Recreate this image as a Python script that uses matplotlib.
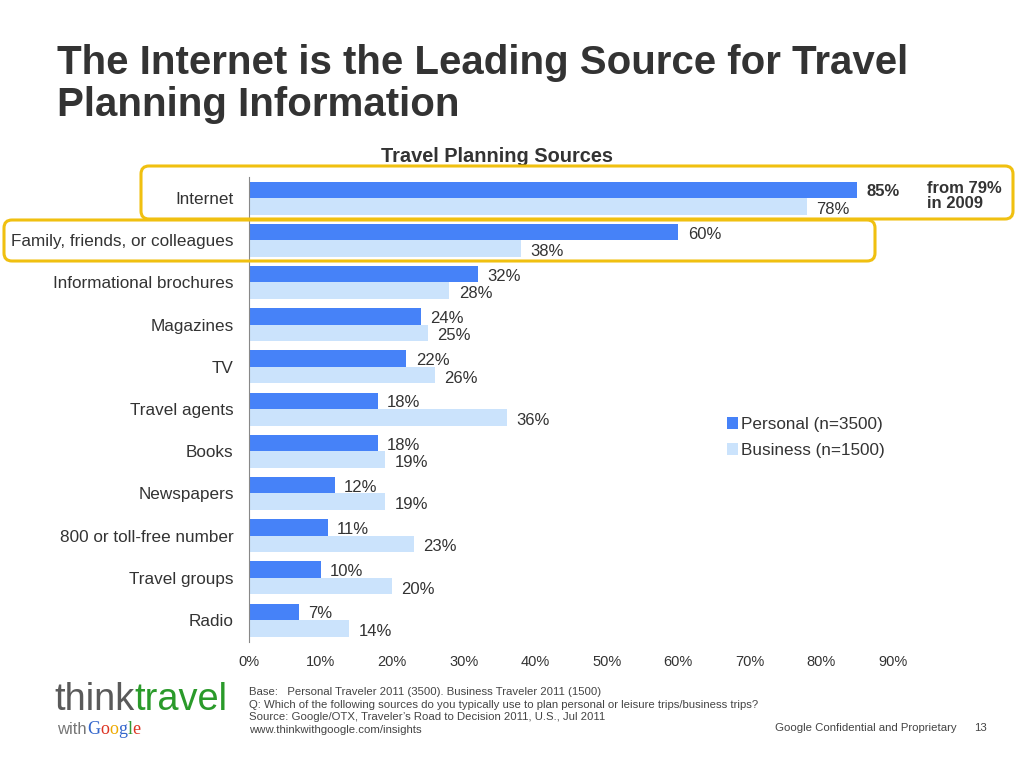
import matplotlib
matplotlib.use('Agg')
import matplotlib.pyplot as plt
from matplotlib.patches import FancyBboxPatch
import numpy as np

plt.rcParams['font.family'] = ['Liberation Sans', 'DejaVu Sans']

# ---------------- data ----------------
categories = ['Internet', 'Family, friends, or colleagues', 'Informational brochures',
              'Magazines', 'TV', 'Travel agents', 'Books', 'Newspapers',
              '800 or toll-free number', 'Travel groups', 'Radio']
personal = [85, 60, 32, 24, 22, 18, 18, 12, 11, 10, 7]
business = [78, 38, 28, 25, 26, 36, 19, 19, 23, 20, 14]
xticks = [0, 10, 20, 30, 40, 50, 60, 70, 80, 90]
series_names = ['Personal (n=3500)', 'Business (n=1500)']

footer_lines = [
    'Base:   Personal Traveler 2011 (3500). Business Traveler 2011 (1500)',
    'Q: Which of the following sources do you typically use to plan personal or leisure trips/business trips?',
    'Source: Google/OTX, Traveler\u2019s Road to Decision 2011, U.S., Jul 2011',
    'www.thinkwithgoogle.com/insights',
]

C_PERS = '#4682F8'
C_BUS = '#CBE3FC'
C_TXT = '#333333'
C_GOLD = '#F0C010'

W, H = 1017, 759
fig = plt.figure(figsize=(W / 100, H / 100), dpi=100)


def fx(px):
    return px / W


def fy(py):
    return 1 - py / H


# ---------------- bars ----------------
ax = fig.add_axes([fx(249), fy(642), fx(893) - fx(249), fy(177) - fy(642)])
y = np.arange(len(categories))
bh = 0.39
ax.barh(y - bh / 2, personal, height=bh, color=C_PERS, label=series_names[0])
ax.barh(y + bh / 2, business, height=bh, color=C_BUS, label=series_names[1])

for i, (p, b) in enumerate(zip(personal, business)):
    w = 'bold' if i == 0 else 'normal'
    ax.text(p + 1.3, y[i] - bh / 2 + 0.05, f'{p}%', va='center', ha='left',
            fontsize=12, fontweight=w, color=C_TXT)
    ax.text(b + 1.3, y[i] + bh / 2 + 0.07, f'{b}%', va='center', ha='left',
            fontsize=12, color=C_TXT)

ax.set_xlim(0, 90)
ax.set_ylim(len(categories) - 0.48, -0.5)
ax.set_xticks(xticks)
ax.set_xticklabels([f'{t}%' for t in xticks], fontsize=10.5, color=C_TXT)
ax.set_yticks(y)
ax.set_yticklabels(categories, fontsize=12.3, color=C_TXT)
ax.tick_params(axis='both', length=0)
ax.tick_params(axis='x', pad=9)
ax.tick_params(axis='y', pad=11)
for s in ['top', 'right', 'bottom']:
    ax.spines[s].set_visible(False)
ax.spines['left'].set_color('#888888')
ax.spines['left'].set_linewidth(0.8)

leg = fig.legend(loc='upper left', bbox_to_anchor=(fx(712), fy(402)), frameon=False,
                 fontsize=12.3, handlelength=0.6, handleheight=0.7, handletextpad=0.2,
                 labelspacing=0.6)
for t in leg.get_texts():
    t.set_color(C_TXT)

# ---------------- titles ----------------
fig.text(fx(57), fy(84), 'The Internet is the Leading Source for Travel\nPlanning Information',
         fontsize=29, fontweight='bold', color='#333333', ha='left', va='center',
         linespacing=1.14)
fig.text(fx(497), fy(156), 'Travel Planning Sources', fontsize=14.4, fontweight='bold',
         color=C_TXT, ha='center', va='center')

fig.text(fx(927), fy(196), 'from 79%\nin 2009', fontsize=12, fontweight='bold',
         color=C_TXT, ha='left', va='center', linespacing=1.05)

# ---------------- highlight boxes (inches coords) ----------------
tr = fig.dpi_scale_trans
for (x0, y0, x1, y1) in [(141, 166, 1013, 219), (4, 220, 875, 261)]:
    box = FancyBboxPatch((x0 / 100, (H - y1) / 100), (x1 - x0) / 100, (y1 - y0) / 100,
                         boxstyle='round,pad=0,rounding_size=0.08', transform=tr,
                         fill=False, edgecolor=C_GOLD, linewidth=2.2, zorder=10)
    fig.patches.append(box)

# ---------------- footer ----------------
for k, line in enumerate(footer_lines):
    fig.text(fx(249), fy(692 + k * 12.7), line, fontsize=8.2, color='#444444',
             ha='left', va='center')
fig.text(fx(775), fy(728), 'Google Confidential and Proprietary', fontsize=8.2,
         color='#444444', ha='left', va='center')
fig.text(fx(974), fy(728), '13', fontsize=8.2, color='#444444', ha='left', va='center')

# logo
t1 = fig.text(fx(54), fy(700), 'think', fontsize=27.4, color='#5a5a5a', ha='left', va='center')
fig.canvas.draw()
bb = t1.get_window_extent()
fig.text(bb.x1 / W, fy(700), 'travel', fontsize=27.4, color='#2a9a2a', ha='left', va='center')

t2 = fig.text(fx(57), fy(729), 'with', fontsize=12, color='#777777', ha='left', va='center')
fig.canvas.draw()
xcur = t2.get_window_extent().x1 + 1
for ch, col in zip('Google', ['#3366CC', '#DD3322', '#EEAA00', '#3366CC', '#339933', '#DD3322']):
    tt = fig.text(xcur / W, fy(729), ch, fontsize=13, color=col, ha='left', va='center',
                  family='Liberation Serif')
    fig.canvas.draw()
    xcur = tt.get_window_extent().x1

fig.savefig('out.png', dpi=100)
